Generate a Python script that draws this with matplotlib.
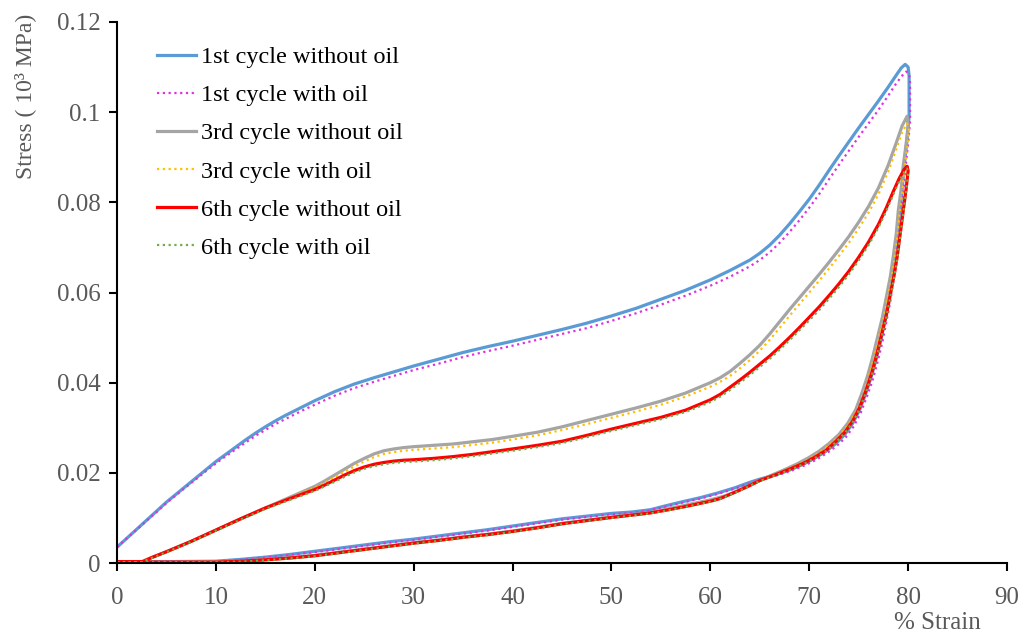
import matplotlib
matplotlib.use("Agg")
import matplotlib.pyplot as plt

# ---- 1st cycle without oil: loading (up) then unloading (down)
x_c1_up = [0, 1, 2, 3, 4, 5, 6, 7, 8, 9, 10, 11, 12, 13, 14, 15, 16, 17, 18, 19, 20,
           22, 24, 26, 28, 30, 32.5, 35, 37.5, 40, 42.5, 45, 47.5, 50, 52.5, 55, 57.5,
           60, 62, 64, 65, 66, 67, 68, 69, 70, 71, 72, 73, 74, 75, 76, 77, 78, 78.8,
           79.3, 79.7, 80.0, 80.1]
y_c1_up = [0.0035, 0.0055, 0.0075, 0.0095, 0.0115, 0.0135, 0.0153, 0.0171, 0.0189,
           0.0207, 0.0225, 0.0241, 0.0257, 0.0273, 0.0288, 0.0302, 0.0315, 0.0327,
           0.0338, 0.0349, 0.0360, 0.0380, 0.0397, 0.0411, 0.0424, 0.0437, 0.0452,
           0.0467, 0.0480, 0.0492, 0.0505, 0.0518, 0.0532, 0.0548, 0.0565, 0.0585,
           0.0605, 0.0628, 0.0649, 0.0672, 0.0687, 0.0705, 0.0727, 0.0752, 0.0779,
           0.0807, 0.0838, 0.0871, 0.0903, 0.0934, 0.0965, 0.0995, 0.1025, 0.1056,
           0.1082, 0.1098, 0.1106, 0.1100, 0.1080]
x_c1_down = [80.1, 79.9, 79.6, 79.4, 79.2, 78.9, 78.7, 78.4, 78.1, 77.7, 77.3, 76.8,
             76.3, 75.7, 75.1, 74.4, 73.6, 72.7, 71.7, 70.6, 69.5, 68, 66.5, 65, 64,
             62.5, 60.7, 59, 57.2, 55.5, 53.9, 52, 50, 47.5, 45, 42.5, 40, 37.5, 35,
             32.5, 30, 27.5, 25, 22.5, 20, 17.5, 15, 12.5, 10, 5, 0]
y_c1_down = [0.099, 0.094, 0.088, 0.083, 0.078, 0.073, 0.068, 0.0635, 0.059, 0.0545,
             0.050, 0.0455, 0.0415, 0.0375, 0.034, 0.031, 0.0285, 0.0265, 0.0248,
             0.0233, 0.0220, 0.0206, 0.0195, 0.0186, 0.0179, 0.0167, 0.0155, 0.0145,
             0.0136, 0.0127, 0.0118, 0.0113, 0.0110, 0.0104, 0.0098, 0.0090, 0.0082,
             0.0074, 0.0067, 0.0060, 0.0053, 0.0047, 0.0040, 0.0033, 0.0026, 0.0019,
             0.0013, 0.0008, 0.0004, 0.0003, 0.0003]

# ---- 1st cycle with oil
x_c1o_up = [0, 1, 2, 3, 4, 5, 6, 7, 8, 9, 10, 11, 12, 13, 14, 15, 16, 17, 18, 19, 20,
            22, 24, 26, 28, 30, 32.5, 35, 37.5, 40, 42.5, 45, 47.5, 50, 52.5, 55, 57.5,
            60, 62, 64, 65, 66, 67, 68, 69, 70, 71, 72, 73, 74, 75, 76, 77, 78, 78.8,
            79.4, 79.8, 80.1, 80.2]
y_c1o_up = [0.0035, 0.0055, 0.0074, 0.0094, 0.0113, 0.0133, 0.0151, 0.0169, 0.0186,
            0.0204, 0.0221, 0.0237, 0.0252, 0.0267, 0.0282, 0.0295, 0.0308, 0.0319,
            0.0330, 0.0341, 0.0351, 0.0371, 0.0388, 0.0402, 0.0415, 0.0428, 0.0442,
            0.0457, 0.0470, 0.0482, 0.0495, 0.0508, 0.0521, 0.0537, 0.0554, 0.0573,
            0.0593, 0.0615, 0.0635, 0.0658, 0.0672, 0.0689, 0.0710, 0.0734, 0.0760,
            0.0788, 0.0818, 0.0851, 0.0883, 0.0914, 0.0945, 0.0975, 0.1005, 0.1037,
            0.1064, 0.1081, 0.1090, 0.1085, 0.1065]
x_c1o_down = [80.2, 80.0, 79.7, 79.5, 79.3, 79.0, 78.8, 78.5, 78.2, 77.8, 77.4, 76.9,
              76.4, 75.8, 75.2, 74.5, 73.7, 72.8, 71.8, 70.7, 69.6, 68, 66.5, 65, 64,
              62.5, 60.7, 59, 57.2, 55.5, 53.9, 52, 50, 47.5, 45, 42.5, 40, 37.5, 35,
              32.5, 30, 27.5, 25, 22.5, 20, 17.5, 15, 12.5, 10, 5, 0]
y_c1o_down = [0.098, 0.093, 0.087, 0.082, 0.077, 0.072, 0.067, 0.0625, 0.058, 0.0535,
              0.049, 0.0445, 0.0405, 0.0367, 0.0333, 0.0303, 0.0279, 0.0260, 0.0244,
              0.0229, 0.0217, 0.0203, 0.0193, 0.0184, 0.0177, 0.0165, 0.0153, 0.0143,
              0.0134, 0.0125, 0.0117, 0.0111, 0.0108, 0.0102, 0.0096, 0.0088, 0.0080,
              0.0072, 0.0065, 0.0058, 0.0051, 0.0045, 0.0038, 0.0031, 0.0024, 0.0018,
              0.0012, 0.0007, 0.0004, 0.0003, 0.0003]

# ---- 3rd cycle without oil
x_c3_up = [0, 2.5, 3.5, 5, 7.5, 10, 12.5, 15, 17.5, 20, 21, 22, 23, 24, 25, 26, 27, 28,
           29, 30, 32, 34, 36, 38, 40, 42.5, 45, 47.5, 50, 52.5, 55, 57.5, 60, 61, 62,
           63, 64, 65, 66, 67, 68, 69, 70, 71, 72, 73, 74, 75, 76, 77, 78, 78.8, 79.4,
           79.9]
y_c3_up = [0.0002, 0.0003, 0.0012, 0.0025, 0.0048, 0.0073, 0.0098, 0.0122, 0.0146,
           0.0170, 0.0182, 0.0195, 0.0208, 0.0221, 0.0232, 0.0242, 0.0249, 0.0253,
           0.0256, 0.0258, 0.0261, 0.0264, 0.0269, 0.0274, 0.0281, 0.0290, 0.0302,
           0.0316, 0.0330, 0.0344, 0.0359, 0.0377, 0.0400, 0.0411, 0.0425, 0.0443,
           0.0462, 0.0483, 0.0508, 0.0535, 0.0562, 0.0588, 0.0614, 0.0640, 0.0667,
           0.0695, 0.0724, 0.0756, 0.0791, 0.0832, 0.0883, 0.0932, 0.0970, 0.0991]
x_c3_down = [80.0, 79.8, 79.5, 79.3, 79.0, 78.8, 78.5, 78.2, 77.8, 77.4, 76.9, 76.4,
             75.9, 75.3, 74.7, 73.9, 73.0, 72.0, 71.0, 69.9, 68.7, 67.3, 66, 64.5, 63,
             61.5, 60, 58.5, 57, 55.5, 54, 52, 50, 47.5, 45, 42.5, 40, 37.5, 35, 32.5,
             30, 27.5, 25, 22.5, 20, 17.5, 15, 12.5, 10, 5, 0]
y_c3_down = [0.097, 0.093, 0.088, 0.083, 0.078, 0.073, 0.068, 0.0635, 0.059, 0.0545,
             0.050, 0.0455, 0.0415, 0.0375, 0.034, 0.031, 0.0285, 0.0265, 0.0248,
             0.0233, 0.0219, 0.0205, 0.0193, 0.0178, 0.0162, 0.0149, 0.0140, 0.0133,
             0.0126, 0.0119, 0.0112, 0.0107, 0.0102, 0.0095, 0.0088, 0.0079, 0.0071,
             0.0064, 0.0058, 0.0051, 0.0045, 0.0038, 0.0031, 0.0024, 0.0017, 0.0012,
             0.0008, 0.0004, 0.0003, 0.0002, 0.0002]

# ---- 3rd cycle with oil
x_c3o_up = [0, 2.5, 3.5, 5, 7.5, 10, 12.5, 15, 17.5, 20, 21, 22, 23, 24, 25, 26, 27, 28,
            29, 30, 32, 34, 36, 38, 40, 42.5, 45, 47.5, 50, 52.5, 55, 57.5, 60, 61, 62,
            63, 64, 65, 66, 67, 68, 69, 70, 71, 72, 73, 74, 75, 76, 77, 78, 78.8, 79.4,
            79.9]
y_c3o_up = [0.0002, 0.0003, 0.0012, 0.0025, 0.0048, 0.0072, 0.0097, 0.0121, 0.0144,
            0.0167, 0.0178, 0.0190, 0.0202, 0.0214, 0.0225, 0.0235, 0.0242, 0.0246,
            0.0249, 0.0251, 0.0254, 0.0257, 0.0262, 0.0267, 0.0274, 0.0283, 0.0295,
            0.0308, 0.0322, 0.0336, 0.0351, 0.0369, 0.0391, 0.0402, 0.0415, 0.0432,
            0.0450, 0.0471, 0.0495, 0.0521, 0.0548, 0.0574, 0.0600, 0.0626, 0.0653,
            0.0681, 0.0710, 0.0742, 0.0777, 0.0818, 0.0869, 0.0918, 0.0956, 0.0975]
x_c3o_down = [80.1, 79.9, 79.6, 79.4, 79.1, 78.9, 78.6, 78.3, 77.9, 77.5, 77.0, 76.5,
              76.0, 75.4, 74.8, 74.0, 73.1, 72.1, 71.1, 70.0, 68.8, 67.4, 66, 64.5, 63,
              61.5, 60, 58.5, 57, 55.5, 54, 52, 50, 47.5, 45, 42.5, 40, 37.5, 35, 32.5,
              30, 27.5, 25, 22.5, 20, 17.5, 15, 12.5, 10, 5, 0]
y_c3o_down = [0.096, 0.092, 0.087, 0.082, 0.077, 0.072, 0.067, 0.0628, 0.0584, 0.054,
              0.0495, 0.0451, 0.0411, 0.0372, 0.0337, 0.0308, 0.0283, 0.0263, 0.0246,
              0.0231, 0.0217, 0.0204, 0.0192, 0.0177, 0.0161, 0.0148, 0.0139, 0.0132,
              0.0125, 0.0118, 0.0111, 0.0106, 0.0101, 0.0094, 0.0087, 0.0078, 0.0070,
              0.0063, 0.0057, 0.0050, 0.0044, 0.0037, 0.0030, 0.0023, 0.0016, 0.0011,
              0.0007, 0.0004, 0.0003, 0.0002, 0.0002]

# ---- 6th cycle without oil
x_c6_up = [0, 2.5, 3.5, 5, 7.5, 10, 12.5, 15, 17.5, 20, 21, 22, 23, 24, 25, 26, 27, 28,
           29, 30, 32, 34, 36, 38, 40, 42.5, 45, 47.5, 50, 52.5, 55, 57.5, 60, 61, 62,
           63, 64, 65, 66, 67, 68, 69, 70, 71, 72, 73, 74, 75, 76, 77, 77.8, 78.5,
           79.1, 79.6, 79.9]
y_c6_up = [0.0002, 0.0002, 0.0012, 0.0025, 0.0048, 0.0073, 0.0098, 0.0122, 0.0143,
           0.0163, 0.0173, 0.0184, 0.0195, 0.0205, 0.0213, 0.0219, 0.0223, 0.0226,
           0.0228, 0.0229, 0.0232, 0.0236, 0.0241, 0.0247, 0.0253, 0.0261, 0.0270,
           0.0283, 0.0297, 0.0310, 0.0323, 0.0339, 0.0362, 0.0374, 0.0390, 0.0406,
           0.0423, 0.0441, 0.0459, 0.0479, 0.0500, 0.0522, 0.0545, 0.0568, 0.0593,
           0.0619, 0.0647, 0.0678, 0.0712, 0.0751, 0.0788, 0.0824, 0.0853, 0.0873,
           0.0880]
x_c6_down = [80.0, 79.8, 79.5, 79.2, 78.9, 78.6, 78.2, 77.8, 77.3, 76.8, 76.3, 75.7,
             75.1, 74.4, 73.6, 72.7, 71.7, 70.6, 69.5, 68, 66.5, 65, 64, 62.5, 61, 60,
             58.5, 57.2, 55.5, 53.9, 52, 50, 47.5, 45, 42.5, 40, 37.5, 35, 32.5, 30,
             27.5, 25, 22.5, 20, 17.5, 15, 12.5, 10, 5, 0]
y_c6_down = [0.087, 0.083, 0.078, 0.073, 0.068, 0.064, 0.0595, 0.055, 0.0505, 0.046,
             0.042, 0.038, 0.0345, 0.0315, 0.029, 0.027, 0.025, 0.0235, 0.0222,
             0.0208, 0.0195, 0.0183, 0.0172, 0.0157, 0.0143, 0.0137, 0.0130, 0.0124,
             0.0117, 0.0111, 0.0106, 0.0101, 0.0094, 0.0087, 0.0078, 0.0070, 0.0063,
             0.0057, 0.0050, 0.0044, 0.0037, 0.0030, 0.0023, 0.0016, 0.0011, 0.0007,
             0.0004, 0.0002, 0.0002, 0.0002]

# ---- 6th cycle with oil
x_c6o_up = [0, 2.5, 3.5, 5, 7.5, 10, 12.5, 15, 17.5, 20, 21, 22, 23, 24, 25, 26, 27, 28,
            29, 30, 32, 34, 36, 38, 40, 42.5, 45, 47.5, 50, 52.5, 55, 57.5, 60, 61, 62,
            63, 64, 65, 66, 67, 68, 69, 70, 71, 72, 73, 74, 75, 76, 77, 77.8, 78.5,
            79.1, 79.6, 79.9]
y_c6o_up = [0.0002, 0.0002, 0.0011, 0.0024, 0.0047, 0.0072, 0.0096, 0.0120, 0.0140,
            0.0160, 0.0170, 0.0180, 0.0191, 0.0201, 0.0209, 0.0215, 0.0219, 0.0222,
            0.0224, 0.0225, 0.0228, 0.0232, 0.0237, 0.0243, 0.0249, 0.0257, 0.0266,
            0.0279, 0.0293, 0.0306, 0.0319, 0.0335, 0.0357, 0.0369, 0.0384, 0.0400,
            0.0417, 0.0435, 0.0453, 0.0473, 0.0494, 0.0516, 0.0538, 0.0561, 0.0586,
            0.0612, 0.0640, 0.0671, 0.0705, 0.0744, 0.0781, 0.0817, 0.0847, 0.0867,
            0.0875]
x_c6o_down = [80.0, 79.8, 79.5, 79.2, 78.9, 78.6, 78.2, 77.8, 77.3, 76.8, 76.3, 75.7,
              75.1, 74.4, 73.6, 72.7, 71.7, 70.6, 69.5, 68, 66.5, 65, 64, 62.5, 61, 60,
              58.5, 57.2, 55.5, 53.9, 52, 50, 47.5, 45, 42.5, 40, 37.5, 35, 32.5, 30,
              27.5, 25, 22.5, 20, 17.5, 15, 12.5, 10, 5, 0]
y_c6o_down = [0.0865, 0.0825, 0.0775, 0.0725, 0.0675, 0.0635, 0.059, 0.0545, 0.050,
              0.0455, 0.0415, 0.0376, 0.0342, 0.0312, 0.0288, 0.0268, 0.0248, 0.0233,
              0.0220, 0.0206, 0.0194, 0.0182, 0.0171, 0.0156, 0.0142, 0.0136, 0.0129,
              0.0123, 0.0116, 0.0110, 0.0105, 0.0100, 0.0093, 0.0086, 0.0077, 0.0069,
              0.0062, 0.0056, 0.0049, 0.0043, 0.0036, 0.0029, 0.0022, 0.0015, 0.0010,
              0.0006, 0.0003, 0.0002, 0.0002, 0.0002]

x_ticks = [0, 10, 20, 30, 40, 50, 60, 70, 80, 90]
y_ticks = [0, 0.02, 0.04, 0.06, 0.08, 0.1, 0.12]
y_tick_labels = ["0", "0.02", "0.04", "0.06", "0.08", "0.1", "0.12"]

plt.rcParams['font.family'] = ['Liberation Serif', 'DejaVu Serif']

fig = plt.figure(figsize=(10.31, 6.34), dpi=100)
ax = fig.add_axes([117 / 1031, 1 - 563 / 634, 890 / 1031, 541 / 634])

dot = (1, 1.6)
ax.plot(x_c1_up + x_c1_down, y_c1_up + y_c1_down, color='#5B9BD5', lw=2.3,
        label='1st cycle without oil')
ax.plot(x_c1o_up + x_c1o_down, y_c1o_up + y_c1o_down, color='#DD33DD', lw=1.6,
        dashes=dot, label='1st cycle with oil')
ax.plot(x_c3_up + x_c3_down, y_c3_up + y_c3_down, color='#A5A5A5', lw=2.3,
        label='3rd cycle without oil')
ax.plot(x_c3o_up + x_c3o_down, y_c3o_up + y_c3o_down, color='#FFC000', lw=1.6,
        dashes=dot, label='3rd cycle with oil')
ax.plot(x_c6_up + x_c6_down, y_c6_up + y_c6_down, color='#FF0000', lw=2.3,
        label='6th cycle without oil')
ax.plot(x_c6o_up + x_c6o_down, y_c6o_up + y_c6o_down, color='#70AD47', lw=1.6,
        dashes=dot, label='6th cycle with oil')

ax.set_xlim(0, 90)
ax.set_ylim(0, 0.12)
ax.set_xticks(x_ticks)
ax.set_yticks(y_ticks)
ax.set_yticklabels(y_tick_labels)

for side in ['top', 'right']:
    ax.spines[side].set_visible(False)
for side in ['left', 'bottom']:
    ax.spines[side].set_linewidth(1.5)
    ax.spines[side].set_color('black')
ax.tick_params(direction='out', length=6, width=1.5, colors='black',
               labelcolor='#595959', labelsize=18, pad=6)
ax.tick_params(axis='x', pad=11)

ax.legend(loc='upper left', bbox_to_anchor=(0.045, 0.955), frameon=False,
          fontsize=17.5, handlelength=1.6, handletextpad=0.2, labelspacing=0.66,
          borderaxespad=0, borderpad=0)

fig.text(25 / 1031, 1 - 14 / 634, 'Stress ( 10³ MPa)', rotation=90, ha='center',
         va='top', color='#595959', fontsize=17)
fig.text(937 / 1031, 1 - 623 / 634, '% Strain', ha='center', va='center',
         color='#595959', fontsize=18)

fig.savefig('out.png', dpi=100)
